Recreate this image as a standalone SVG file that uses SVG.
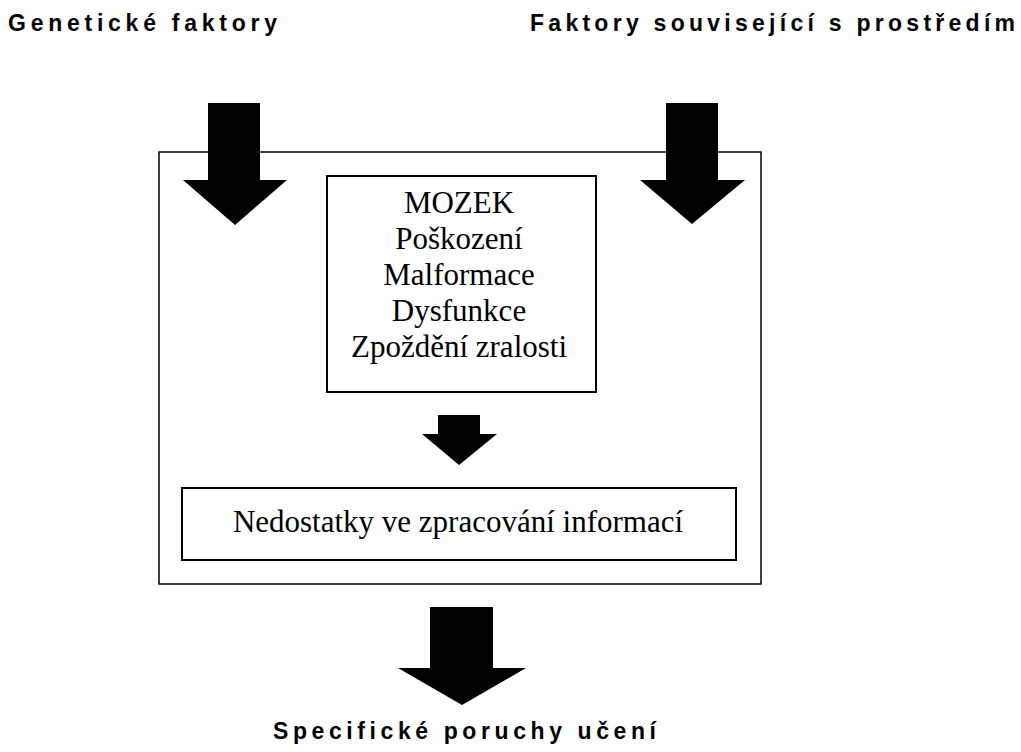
<svg xmlns="http://www.w3.org/2000/svg" width="1021" height="752" viewBox="0 0 1021 752">
<style>
.hdr{font-family:"Liberation Sans",Arial,sans-serif;font-weight:bold;font-size:23px;fill:#000}
.tm{font-family:"Liberation Serif","Times New Roman",serif;font-size:31px;fill:#000;text-anchor:middle}
.box{fill:#fff;stroke:#000;stroke-width:2}
.outer{fill:#fff;stroke:#000;stroke-width:1.5}
.arr{fill:#000}
</style>
<rect width="1021" height="752" fill="#fff"/>
<g id="outer-box"><rect class="outer" x="159" y="152" width="602" height="432"/></g>
<g id="genetic"><text class="hdr" x="8" y="31" textLength="269" lengthAdjust="spacing">Genetické faktory</text></g>
<g id="environment"><text class="hdr" x="530" y="31" textLength="485" lengthAdjust="spacing">Faktory související s prostředím</text></g>
<g id="brain">
<rect class="box" x="327" y="176" width="269" height="216"/>
<text class="tm" x="459" y="213">MOZEK</text>
<text class="tm" x="459" y="249">Poškození</text>
<text class="tm" x="459" y="285">Malformace</text>
<text class="tm" x="459" y="321">Dysfunkce</text>
<text class="tm" x="459" y="357">Zpoždění zralosti</text>
</g>
<g id="processing">
<rect class="box" x="182" y="488" width="554" height="72"/>
<text class="tm" x="458" y="532">Nedostatky ve zpracování informací</text>
</g>
<g id="outcome"><text class="hdr" x="273" y="739" textLength="383" lengthAdjust="spacing">Specifické poruchy učení</text></g>
<g id="connectors">
<polygon class="arr" points="208,103 260,103 260,180 287,180 235,225 183,180 208,180"/>
<polygon class="arr" points="666,103 718,103 718,180 745,180 692,224 640,180 666,180"/>
<polygon class="arr" points="438,415 480,415 480,434 497,434 459,465 422,434 438,434"/>
<polygon class="arr" points="430,607 493,607 493,668 526,668 462,705 398,668 430,668"/>
</g>
</svg>
